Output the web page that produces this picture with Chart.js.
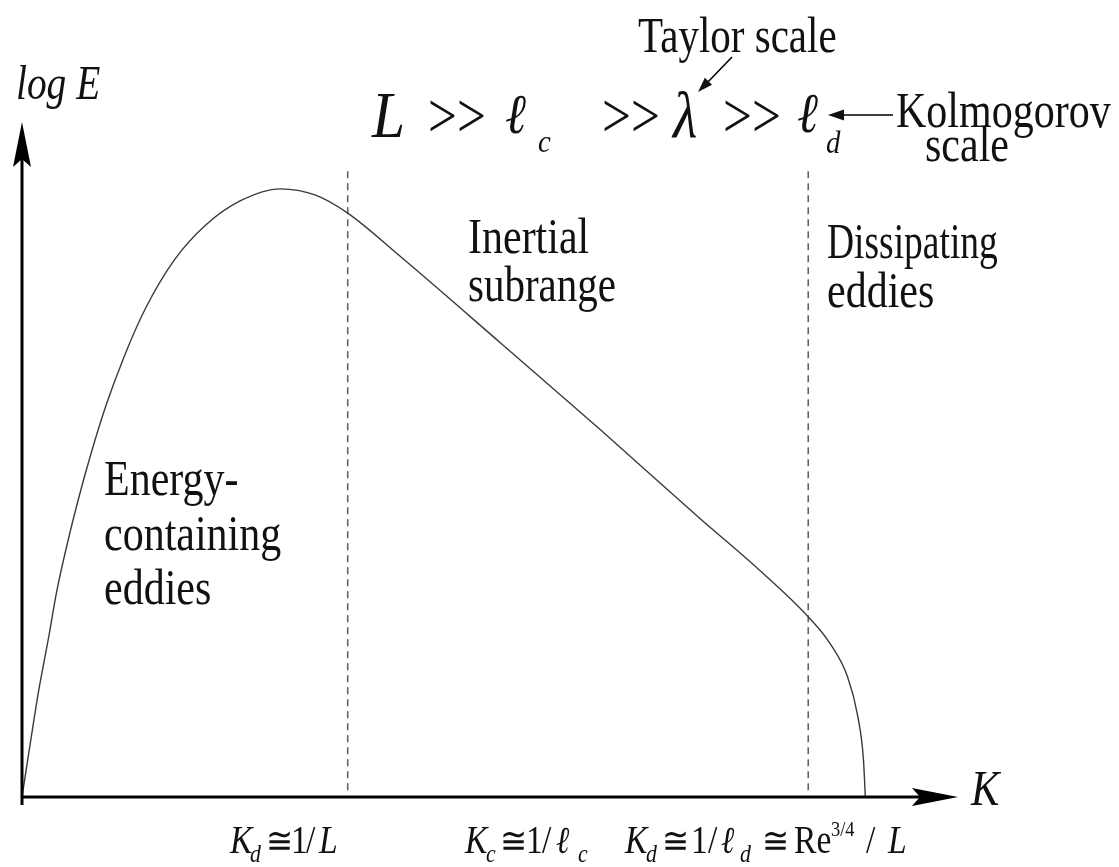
<!DOCTYPE html>
<html>
<head>
<meta charset="utf-8">
<title>Turbulent energy spectrum</title>
<script src="https://cdn.jsdelivr.net/npm/chart.js@4.4.1/dist/chart.umd.min.js"></script>
<style>
  html, body { margin: 0; padding: 0; background: #ffffff; }
  #wrap { width: 1119px; height: 867px; }
</style>
</head>
<body>
<div id="wrap"><canvas id="spectrum" width="1119" height="867"></canvas></div>
<script>
// Wavenumber K (arbitrary units) and log E of the energy spectrum
const kValues    = [0, 0.09, 0.18, 0.28, 0.37, 0.48, 0.60, 0.74, 0.90, 1.09, 1.32, 1.63, 1.96, 2.33, 2.76, 3.13, 3.48, 4.04, 5.11, 6.18, 7.24, 7.88, 8.40, 8.63, 8.82, 8.93, 8.99, 9.01];
const logEValues = [0, 0.81, 1.59, 2.33, 3.04, 3.73, 4.40, 5.10, 5.81, 6.52, 7.24, 7.96, 8.47, 8.83, 9.01, 8.92, 8.65, 8.01, 6.73, 5.44, 4.13, 3.36, 2.67, 2.28, 1.78, 1.19, 0.55, 0];

// Boundaries between the ranges (dashed verticals)
const boundaryK = [3.48, 8.40];
const boundaryLogE = [0.1, 9.32];

// Axis extents
const kRange = [0, 10];
const logERange = [0, 10];

const SERIF = '"Liberation Serif", "DejaVu Serif", serif';

const spectrumPoints = kValues.map((k, i) => ({ x: k, y: logEValues[i] }));

const boundaryDatasets = boundaryK.map(k => ({
  data: boundaryLogE.map(v => ({ x: k, y: v })),
  borderColor: '#666666',
  borderWidth: 1.6,
  borderDash: [7, 5],
  pointRadius: 0,
  tension: 0
}));

function font(size, italic) {
  return (italic ? 'italic ' : '') + size + 'px ' + SERIF;
}

// Text drawn with a horizontal squeeze (the lettering is narrow and tall)
function txt(ctx, s, x, y, size, italic, sx) {
  ctx.save();
  ctx.translate(x, y);
  ctx.scale(sx || 0.84, 1);
  ctx.font = font(size, italic);
  ctx.fillText(s, 0, 0);
  ctx.restore();
}

function arrowHead(ctx, tipX, tipY, angle, len, half, notch) {
  ctx.save();
  ctx.translate(tipX, tipY);
  ctx.rotate(angle);
  ctx.beginPath();
  ctx.moveTo(0, 0);
  ctx.lineTo(-len, -half);
  ctx.lineTo(-len + notch, 0);
  ctx.lineTo(-len, half);
  ctx.closePath();
  ctx.fill();
  ctx.restore();
}

const decorations = {
  id: 'decorations',
  afterDatasetsDraw(chart) {
    const ctx = chart.ctx;
    const xs = chart.scales.x, ys = chart.scales.y;
    const x0 = xs.getPixelForValue(kRange[0]);
    const x1 = xs.getPixelForValue(kRange[1]);
    const y0 = ys.getPixelForValue(logERange[0]);
    const y1 = ys.getPixelForValue(logERange[1]);

    ctx.save();
    ctx.fillStyle = '#000';
    ctx.strokeStyle = '#000';

    // Axes with arrowheads
    ctx.lineWidth = 3;
    ctx.beginPath();
    ctx.moveTo(x0, y0 + 8);
    ctx.lineTo(x0, y1 + 30);
    ctx.moveTo(x0 - 1, y0);
    ctx.lineTo(x1 - 30, y0);
    ctx.stroke();
    arrowHead(ctx, x0, y1, -Math.PI / 2, 45, 9, 8);
    arrowHead(ctx, x1, y0, 0, 46, 9, 8);

    ctx.fillStyle = '#111';
    ctx.textBaseline = 'alphabetic';

    // Axis titles
    txt(ctx, 'log E', 16, 99, 48, true, 0.82);
    txt(ctx, 'K', 971, 805, 50, true, 0.85);

    // Ordering of the length scales
    txt(ctx, 'L', 372, 137, 66, true, 0.9);
    txt(ctx, '>>', 428, 137, 64, false, 0.8);
    txt(ctx, '\u2113', 505, 133, 56, true, 0.9);
    txt(ctx, 'c', 538, 152, 32, true, 0.9);
    txt(ctx, '>>', 602, 137, 64, false, 0.8);
    txt(ctx, '\u03BB', 673, 137, 66, true, 0.85);
    txt(ctx, '>>', 723, 137, 64, false, 0.8);
    txt(ctx, '\u2113', 797, 132, 56, true, 0.9);
    txt(ctx, 'd', 826, 153, 32, true, 0.9);

    // Taylor / Kolmogorov callouts
    txt(ctx, 'Taylor scale', 638, 52, 50, false, 0.82);
    txt(ctx, 'Kolmogorov', 896, 127, 50, false, 0.84);
    txt(ctx, 'scale', 925, 161, 50, false, 0.84);

    ctx.lineWidth = 1.6;
    ctx.beginPath();
    ctx.moveTo(732, 57);
    ctx.lineTo(706, 84);
    ctx.moveTo(893, 115);
    ctx.lineTo(840, 115);
    ctx.stroke();
    arrowHead(ctx, 698, 92, Math.atan2(92 - 57, 698 - 732), 15, 5, 0);
    arrowHead(ctx, 828, 115, Math.PI, 16, 5.5, 0);

    // Range labels
    txt(ctx, 'Inertial', 468, 253, 50, false);
    txt(ctx, 'subrange', 468, 301, 50, false, 0.82);
    txt(ctx, 'Dissipating', 827, 258, 50, false, 0.75);
    txt(ctx, 'eddies', 827, 307, 50, false);
    txt(ctx, 'Energy-', 104, 495, 50, false);
    txt(ctx, 'containing', 104, 550, 50, false);
    txt(ctx, 'eddies', 104, 604, 50, false);

    // Wavenumber markers below the axis
    const by = 853, sb = by + 9, sp = by - 17;
    txt(ctx, 'K', 230, by, 40, true);
    txt(ctx, 'd', 250, sb, 26, true);
    txt(ctx, '\u2245', 266, by, 36, false, 0.9);
    txt(ctx, '1', 291, by, 40, false);
    txt(ctx, '/', 306, by, 40, false);
    txt(ctx, 'L', 319, by, 40, true);

    txt(ctx, 'K', 465, by, 40, true);
    txt(ctx, 'c', 486, sb, 26, true);
    txt(ctx, '\u2245', 500, by, 36, false, 0.9);
    txt(ctx, '1', 526, by, 40, false);
    txt(ctx, '/', 542, by, 40, false);
    txt(ctx, '\u2113', 556, by, 38, true);
    txt(ctx, 'c', 578, sb, 26, true);

    txt(ctx, 'K', 625, by, 40, true);
    txt(ctx, 'd', 646, sb, 26, true);
    txt(ctx, '\u2245', 662, by, 36, false, 0.9);
    txt(ctx, '1', 691, by, 40, false);
    txt(ctx, '/', 708, by, 40, false);
    txt(ctx, '\u2113', 721, by, 38, true);
    txt(ctx, 'd', 740, sb, 26, true);
    txt(ctx, '\u2245', 762, by, 36, false, 0.9);
    txt(ctx, 'Re', 794, by, 40, false);
    txt(ctx, '3/4', 831, sp, 22, false);
    txt(ctx, '/', 866, by, 40, false);
    txt(ctx, 'L', 888, by, 40, true);

    ctx.restore();
  }
};

new Chart(document.getElementById('spectrum'), {
  type: 'line',
  data: {
    datasets: [
      {
        data: spectrumPoints,
        borderColor: '#3a3a3a',
        borderWidth: 1.4,
        pointRadius: 0,
        cubicInterpolationMode: 'monotone',
        fill: false
      },
      ...boundaryDatasets
    ]
  },
  options: {
    responsive: false,
    animation: false,
    devicePixelRatio: 1,
    layout: { padding: { left: 22, right: 161, top: 122, bottom: 70 } },
    plugins: { legend: { display: false }, tooltip: { enabled: false } },
    scales: {
      x: { type: 'linear', min: kRange[0], max: kRange[1], display: false },
      y: { type: 'linear', min: logERange[0], max: logERange[1], display: false }
    }
  },
  plugins: [decorations]
});
</script>
</body>
</html>
